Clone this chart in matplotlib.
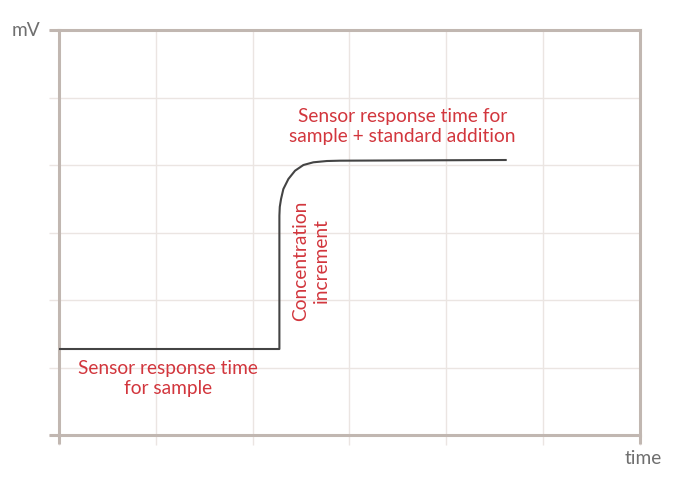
import matplotlib
matplotlib.use("Agg")
import matplotlib.pyplot as plt
from matplotlib.lines import Line2D

# Data (grid units: x 0..6, y 0..6)
curve_x = [0.0, 2.276, 2.276, 2.276, 2.280, 2.293, 2.317, 2.369, 2.438, 2.524, 2.627, 2.766, 2.905, 4.613]
curve_y = [1.274, 1.274, 2.904, 3.249, 3.380, 3.496, 3.644, 3.793, 3.916, 4.0, 4.04, 4.059, 4.064, 4.074]
grid_ticks = [0, 1, 2, 3, 4, 5, 6]
label_sample = "Sensor response time\nfor sample"
label_addition = "Sensor response time for\nsample + standard addition"
label_increment = "Concentration\nincrement"
y_label = "mV"
x_label = "time"

plt.rcParams['font.family'] = ['Lato', 'DejaVu Sans']

SPINE = '#c1b7b1'
GRID = '#ebe5e2'
RED = '#d2363d'
LINE = '#444444'
AXTXT = '#6f6f6f'
FS = 13.8
FW = 'normal'

fig = plt.figure(figsize=(6.89, 4.89), dpi=100)
ax = fig.add_axes([59/689, 1-436/489, (640-59)/689, (436-31)/489])
ax.set_xlim(0, 6)
ax.set_ylim(0, 6)
ax.set_xticks(grid_ticks)
ax.set_yticks(grid_ticks)
ax.set_xticklabels([])
ax.set_yticklabels([])
ax.grid(True, color=GRID, linewidth=1.0)
ax.tick_params(direction='out', length=7, width=1.0, color=GRID)
for s in ax.spines.values():
    s.set_color(SPINE)
    s.set_linewidth(2.2)

# extended spine stubs
ext_x = 10/581
ext_y = 9/405
ax.add_line(Line2D([-ext_x, 0], [1, 1], transform=ax.transAxes, color=SPINE, lw=2.2, clip_on=False, solid_capstyle='butt'))
ax.add_line(Line2D([-ext_x, 0], [0, 0], transform=ax.transAxes, color=SPINE, lw=2.2, clip_on=False, solid_capstyle='butt'))
ax.add_line(Line2D([0, 0], [-ext_y, 0], transform=ax.transAxes, color=SPINE, lw=2.2, clip_on=False, solid_capstyle='butt'))
ax.add_line(Line2D([1, 1], [-ext_y, 0], transform=ax.transAxes, color=SPINE, lw=2.2, clip_on=False, solid_capstyle='butt'))

ax.plot(curve_x, curve_y, color=LINE, lw=1.5, solid_joinstyle='round', zorder=5)

ax.text(1.126, 0.852, label_sample, color=RED, fontsize=FS, fontweight=FW, ha='center', va='center', linespacing=1.25)
ax.text(3.549, 4.585, label_addition, color=RED, fontsize=FS, fontweight=FW, ha='center', va='center', linespacing=1.25)
ax.text(2.603, 2.593, label_increment, color=RED, fontsize=FS, fontweight=FW, ha='center', va='center', rotation=90, linespacing=1.25)

fig.text(40/689, 1-31/489, y_label, color=AXTXT, fontsize=FS, fontweight=FW, ha='right', va='center')
fig.text(643/689, 1-459/489, x_label, color=AXTXT, fontsize=FS, fontweight=FW, ha='center', va='center')

fig.savefig('out.png', dpi=100)
